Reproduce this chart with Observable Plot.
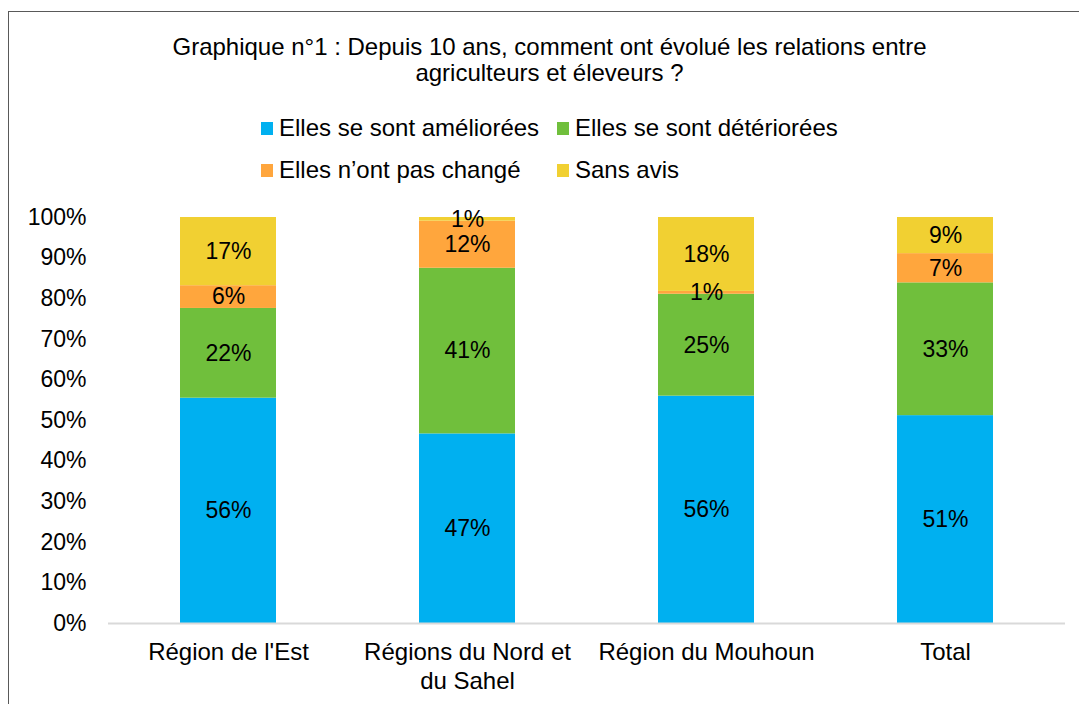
<!DOCTYPE html>
<html><head><meta charset="utf-8">
<script src="https://cdn.jsdelivr.net/npm/d3@7"></script>
<script src="https://cdn.jsdelivr.net/npm/@observablehq/plot@0.6"></script>
<style>
body{margin:0;background:#fff;font-family:"Liberation Sans",Arial,sans-serif;color:#000;}
#wrap{position:relative;width:1079px;height:704px;overflow:hidden;background:#fff;}
#frame{position:absolute;left:8px;top:11px;width:1100px;height:720px;border:1.5px solid #595959;box-sizing:border-box;}
#title{position:absolute;left:0;top:34px;width:1099px;text-align:center;font-size:24px;line-height:26px;}
.leg{position:absolute;display:flex;align-items:center;font-size:24px;height:26px;white-space:nowrap;}
.sw{width:12px;height:13px;margin-right:6px;flex:none;}
#chart{position:absolute;left:0;top:195px;}
</style></head><body>
<div id="wrap"><div id="frame"></div><div id="title"></div><div id="legend"></div><div id="chart"></div></div>
<script>
const titleLines = ["Graphique n°1 : Depuis 10 ans, comment ont évolué les relations entre", "agriculteurs et éleveurs ?"];
const categories = ["Région de l'Est", "Régions du Nord et du Sahel", "Région du Mouhoun", "Total"];
const tickLabels = ["Région de l'Est", "Régions du Nord et\ndu Sahel", "Région du Mouhoun", "Total"];
const series = ["Elles se sont améliorées", "Elles se sont détériorées", "Elles n’ont pas changé", "Sans avis"];
const colors = ["#00B0F0", "#70BF3C", "#FFA63D", "#F1D032"];
const ameliorees = [55.5, 46.7, 56.0, 51.2];
const deteriorees = [22.1, 40.8, 25.1, 32.7];
const pasChange = [5.6, 11.6, 0.7, 7.2];
const sansAvis = [16.8, 0.9, 18.2, 8.9];
const yTicks = [0, 0.1, 0.2, 0.3, 0.4, 0.5, 0.6, 0.7, 0.8, 0.9, 1];

const seriesValues = [ameliorees, deteriorees, pasChange, sansAvis];
const rows = categories.flatMap((c, i) => series.map((s, j) => ({category: c, series: s, value: seriesValues[j][i]})));

document.getElementById("title").innerHTML = titleLines.join("<br>");

// legend: 2 columns x 2 rows
const legPos = [[261, 115], [557, 115], [261, 157], [557, 157]];
const legend = document.getElementById("legend");
series.forEach((s, j) => {
  const item = document.createElement("div");
  item.className = "leg";
  item.style.left = legPos[j][0] + "px";
  item.style.top = legPos[j][1] + "px";
  const sw = document.createElement("span");
  sw.className = "sw";
  sw.style.background = colors[j];
  item.appendChild(sw);
  item.appendChild(document.createTextNode(s));
  legend.appendChild(item);
});

const chart = Plot.plot({
  width: 1079,
  height: 509,
  marginTop: 22,
  marginBottom: 81,
  marginLeft: 108,
  marginRight: 14,
  style: {fontFamily: "Liberation Sans, Arial, sans-serif", fontSize: "23px", color: "#000", background: "transparent"},
  x: {domain: categories, paddingInner: 0.6, paddingOuter: 0.3, axis: null},
  y: {domain: [0, 1], axis: null},
  color: {domain: series, range: colors},
  marks: [
    Plot.barY(rows, Plot.stackY({offset: "normalize"}, {x: "category", y: "value", fill: "series", z: "series"})),
    Plot.ruleY([0], {stroke: "#D9D9D9", strokeWidth: 2}),
    Plot.text(rows, Plot.stackY({offset: "normalize"}, {x: "category", y: "value", z: "series", text: d => Math.round(d.value) + "%", fill: "#000", fontSize: 23})),
    Plot.axisY({ticks: yTicks, tickSize: 0, tickPadding: 22, tickFormat: d3.format(".0%"), fontSize: 23, label: null}),
    Plot.axisX({tickSize: 0, tickPadding: 17, tickFormat: d => tickLabels[categories.indexOf(d)], lineHeight: 1.17, fontSize: 24, label: null})
  ]
});
document.getElementById("chart").appendChild(chart);
</script>
</body></html>
